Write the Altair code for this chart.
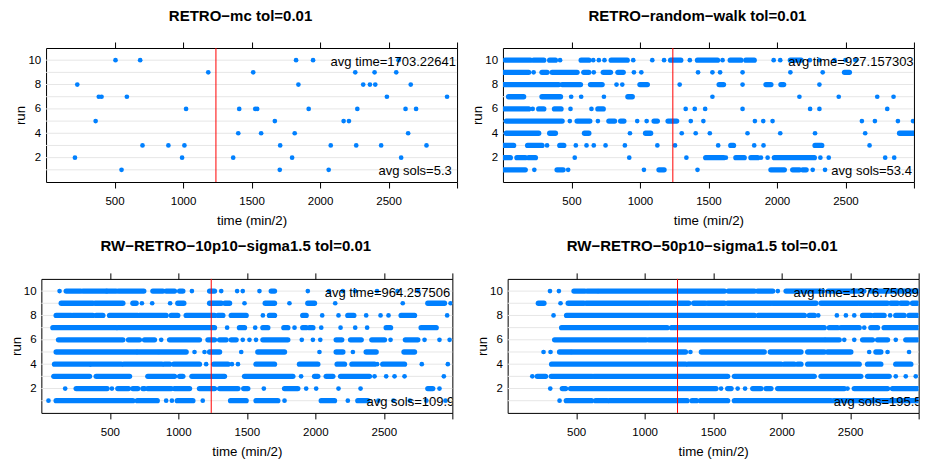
import altair as alt
import pandas as pd

FONT = "Liberation Sans"
DOT_COLOR = "#0080ff"
W, H = 411, 134

titles = [
    "RETRO\u2212mc tol=0.01",
    "RETRO\u2212random\u2212walk tol=0.01",
    "RW\u2212RETRO\u221210p10\u2212sigma1.5 tol=0.01",
    "RW\u2212RETRO\u221250p10\u2212sigma1.5 tol=0.01",
]
avg_time = ["avg time=1703.22641", "avg time=927.157303",
            "avg time=964.257506", "avg time=1376.75089"]
avg_sols = ["avg sols=5.3", "avg sols=53.4", "avg sols=109.9", "avg sols=195.5"]
x_ticks = [500, 1000, 1500, 2000, 2500, 3000]
y_ticks = [2, 4, 6, 8, 10]
runs = list(range(1, 11))
ref_time = 1240

# each panel: one list per run (run 1 first); a number is a single solution
# time, a [a, b] pair is a stretch of solutions so dense that the dots merge
retro_mc = [
    [551, 1706, 2063],
    [211, 993, 1366, 1796, 2592],
    [704, 893, 1010, 1709, 2078, 2264, 2446, 2777],
    [1403, 1570, 1815, 2643],
    [362, 1670, 2172, 2211],
    [1022, 1410, 1527, 1541, 1917, 2272, 2624, 2701],
    [385, 405, 590, 2488, 2927],
    [228, 1842, 2315, 2364, 2403, 2662],
    [1184, 1512, 2257, 2398, 2556],
    [507, 687, 1825, 1949, 2573],
]

retro_random_walk = [
    [[5, 163], 229, [395, 439], 476, 1029, [1139, 1176], 1420, [1956, 2054],
     [2115, 2164], [2188, 2213], 2261, 2351],
    [[5, 54], [102, 163], [188, 237], 524, 922, 1339, [1480, 1610], 1627,
     [1700, 1761], [1810, 1859], 1883, 1932, [1981, 2273], 2317, 2378, 2790, 2856],
    [[5, 78], [180, 285], 322, [415, 444], 532, 610, 663, 749, 890, 1127, 1256,
     1571, [1663, 1683], 1834, 1902, [2278, 2327], 2676],
    [[24, 261], [341, 383], [595, 627], 927, [1041, 1078], 1305, 1407, 1510,
     1785, 2024, 2278, 2644, [2895, 3000]],
    [[24, 432], 488, [541, 634], 693, [773, 815], [859, 883], 980, 1049,
     [1103, 1127], [1205, 1268], 1371, 1463, 1839, 1900, 1968, 2620, 2715, 2883, 2993],
    [[10, 188], 217, [261, 298], [376, 424], 493, 646, [693, 732], 1334, 1400,
     1476, 1749, 2242, 2310, 2805],
    [[41, 151], [285, 420], 498, 571, 737, [912, 944], 1529, 2164, 2451, 2732, 2851],
    [[10, 407], [432, 566], [639, 724], 829, 871, [1000, 1054], 1290,
     [1578, 1610], 1749, [1920, 1956], [2029, 2049], 2310],
    [[5, 188], 224, [285, 322], [359, 541], [590, 627], 663, [732, 785],
     [839, 878], 956, 1010, 1424, 1529, 1585, 1749, 2098, 2334, [2493, 2529]],
    [[17, 200], [224, 298], [341, 383], 417, [571, 627], 659, 700, 741,
     [790, 907], 951, 1090, 1176, [1224, 1298], 1364, [1420, 1566], 1603,
     [1659, 1737], [1773, 1834], 1976, 2024, [2098, 2176], 2240, 2310, 2420,
     2500, 2573],
]

rw_retro_10p10 = [
    [52, [108, 668], [700, 846], 911, 953, [992, 1106], 1178, [1381, 1495],
     [1567, 1726], 1775, [2043, 2140], 2237, [2310, 2383], 2460, 2570, 2690,
     2810, 2950],
    [174, [254, 480], 515, [558, 636], [668, 704], [741, 753], [777, 948],
     [972, 1082], [1154, 1264], [1301, 1435], [1477, 1507], 1624, [1775, 1872],
     1933, 2006, 2169, 2330, [2821, 2857], 2906],
    [[91, 352], [400, 644], [777, 972], [1009, 1033], [1099, 1337], [1483, 1836],
     1896, [1994, 2018], [2079, 2128], [2184, 2395], 2432, 2517, 2578, 2651, 2938],
    [[96, 352], [364, 583], [602, 880], [899, 936], [967, 1154], 1203,
     [1259, 1362], 1391, 1435, [1567, 1702], [1884, 2018], [2159, 2213],
     [2267, 2432], 2451, [2492, 2651], 2777, 2967],
    [[108, 692], [704, 850], [863, 1057], 1118, 1191, [1228, 1301], 1459,
     [1580, 1775], 2030, [2152, 2201], 2274, [2371, 2444], [2647, 2724]],
    [[125, 595], [636, 716], [753, 826], 875, [936, 1154], [1216, 1264],
     [1301, 1349], [1386, 1422], 1470, 1519, 1567, [1617, 1799], 1901, 1982,
     2036, [2152, 2193], [2257, 2335], [2412, 2505], 2549, [2657, 2748], 2797,
     2906, 2980],
    [[84, 546], [558, 1264], 1356, [1446, 1483], 1561, [1617, 1653],
     [1770, 1799], 1848, [1908, 1933], [1957, 1982], 2043, 2184, 2291, 2378,
     [2517, 2549], [2772, 2882]],
    [[108, 218], [230, 376], [400, 449], [498, 704], [716, 911], [948, 996],
     [1057, 1264], [1289, 1325], [1386, 1495], 1617, [1665, 1702], [1908, 1933],
     2050, 2169, [2237, 2281], 2371, 2476, 2534, [2626, 2724], 2962],
    [[145, 376], [393, 595], [668, 692], 734, 809, 940, [996, 1040],
     [1228, 1313], [1340, 1374], 1483, [1634, 1702], 1811, [1945, 1994], 2145,
     2638, [2821, 2943], 2987],
    [133, [181, 286], [303, 473], [480, 546], [563, 748], [814, 887],
     [911, 972], [1009, 1033], 1099, [1228, 1264], 1313, 1429, 1470, 1592,
     [1678, 1702], 1945, 2100, 2200, 2290, 2450, 2600, 2750],
]

rw_retro_50p10 = [
    [379, [428, 612], [642, 727], [744, 1310], [1346, 1378], [1407, 1606],
     [1655, 2360], [2380, 2995]],
    [311, [399, 423], [459, 1521], 1558, [1606, 1631], 1679, 1733,
     [1789, 1849], [1886, 1922], [1971, 2457], 2481, [2530, 2773], [2809, 2991]],
    [180, [216, 277], [318, 617], [629, 1606], [1655, 2238], [2287, 2578],
     [2627, 2785], 2833, 2906, 2979],
    [[321, 1298], [1317, 1996], [2020, 2092], [2117, 2141], [2190, 2566],
     [2627, 2724], [2833, 2943]],
    [262, 313, [379, 459], [471, 1298], 1334, [1414, 1873], [1917, 2141],
     [2190, 2311], [2335, 2505], 2639, [2688, 2724], 2773, 2930],
    [[343, 1011], [1030, 2311], [2323, 2420], 2457, 2530, [2591, 2663],
     [2700, 2773], 2833, [2906, 2991]],
    [[394, 1164], [1196, 2311], [2348, 2408], [2432, 2566], 2603,
     [2651, 2700], [2748, 2991]],
    [335, [430, 1801], [1830, 2166], [2202, 2238], 2267, 2403, 2469, 2530,
     [2591, 2651], [2676, 2748], 2792, [2833, 2894], [2930, 2991]],
    [[224, 265], 386, [442, 556], [573, 1030], [1042, 1225], [1249, 1322],
     [1358, 1443], [1460, 1582], [1606, 1922], [1935, 2250], [2287, 2554],
     [2566, 2772], [2797, 2846], [2870, 2918], [2955, 2991]],
    [309, 374, [484, 564], [581, 654], [666, 1582], [1611, 1801], [1825, 1935],
     1972, [2032, 2300], [2340, 2600], [2650, 2990]],
]

panels = [retro_mc, retro_random_walk, rw_retro_10p10, rw_retro_50p10]
# where the two annotation texts start (data units on the time axis)
time_label_start = [2077, 2082, 2069, 2087]
sols_label_start = [2426, 2397, 2373, 2380]


def split(rows):
    dots, segs = [], []
    for run, items in zip(runs, rows):
        for it in items:
            if isinstance(it, (list, tuple)):
                segs.append({"run": run, "start": it[0], "end": it[1]})
            else:
                dots.append({"run": run, "time": it})
    return (pd.DataFrame(dots, columns=["run", "time"]),
            pd.DataFrame(segs, columns=["run", "start", "end"]))


def panel(i):
    dots, segs = split(panels[i])
    xs = alt.Scale(domain=[0, 3000], nice=False, zero=False)
    ys = alt.Scale(domain=[0, 11], nice=False, zero=False)
    bottom = alt.Axis(
        orient="bottom", values=x_ticks, format="d",
        labelExpr="datum.value >= 3000 ? '' : datum.label",
        tickSize=6, tickColor="black", tickWidth=1, domain=False, grid=False,
        labelFont=FONT, labelFontSize=11.5, labelColor="black", labelPadding=7.4,
        labelFlush=False, labelOverlap=False,
        title="time (min/2)", titleFont=FONT, titleFontSize=13.3,
        titleFontWeight="normal", titleColor="black", titlePadding=6.5)
    top = alt.Axis(orient="top", values=x_ticks, labels=False, tickSize=6,
                   tickColor="black", tickWidth=1, domain=False, grid=False,
                   title="")
    left = alt.Axis(
        orient="left", values=y_ticks, ticks=False, tickSize=0, domain=False,
        grid=False, labelFont=FONT, labelFontSize=11.5, labelColor="black",
        labelPadding=5.3, title="run", titleFont=FONT, titleFontSize=13.3,
        titleFontWeight="normal", titleColor="black", titlePadding=0)

    def X(field):
        return alt.X(field, type="quantitative", scale=xs, axis=bottom)

    def Y():
        return alt.Y("run:Q", scale=ys, axis=left)

    inner = [alt.Chart(pd.DataFrame({"run": runs})).mark_rule(
        color="#e6e6e6", strokeWidth=1).encode(y=Y())]
    if len(segs):
        inner.append(alt.Chart(segs).mark_rule(
            color=DOT_COLOR, strokeWidth=5.3, strokeCap="round", clip=True).encode(
            x=X("start"), x2="end:Q", y=Y()))
    inner.append(alt.Chart(dots).mark_circle(
        color=DOT_COLOR, size=22, opacity=1, clip=True).encode(
        x=X("time"), y=Y()))
    ann = pd.DataFrame({"time": [time_label_start[i], sols_label_start[i]],
                        "run": [10, 1],
                        "label": [avg_time[i], avg_sols[i]]})
    inner.append(alt.Chart(ann).mark_text(
        align="left", baseline="middle", dy=1.5, fontSize=13, font=FONT,
        color="black", clip=True).encode(
        x=X("time"), y=Y(), text="label:N"))

    red = alt.Chart(pd.DataFrame({"time": [ref_time]})).mark_rule(
        color="#ff0000", strokeWidth=1).encode(
        x=alt.X("time:Q", scale=xs, axis=top))
    ttl = alt.Chart(pd.DataFrame({"a": [0]})).mark_text(
        text=titles[i], align="center", baseline="alphabetic", fontSize=15,
        fontWeight="bold", font=FONT, color="black").encode(
        x=alt.value(W / 2 - 11), y=alt.value(-27.5))
    return alt.layer(alt.layer(*inner), red, ttl).resolve_axis(
        x="independent").properties(width=W, height=H)


row1 = alt.hconcat(panel(0), panel(1), spacing=11.9)
row2 = alt.hconcat(panel(2), panel(3), spacing=21.3)
chart = alt.vconcat(row1, row2, spacing=10.9, center=True).properties(
    padding={"left": 0, "top": 0, "right": 0, "bottom": 0}
).configure_view(stroke="black", strokeWidth=1)

chart.save("out.html", embed_options={"renderer": "svg", "actions": False})
